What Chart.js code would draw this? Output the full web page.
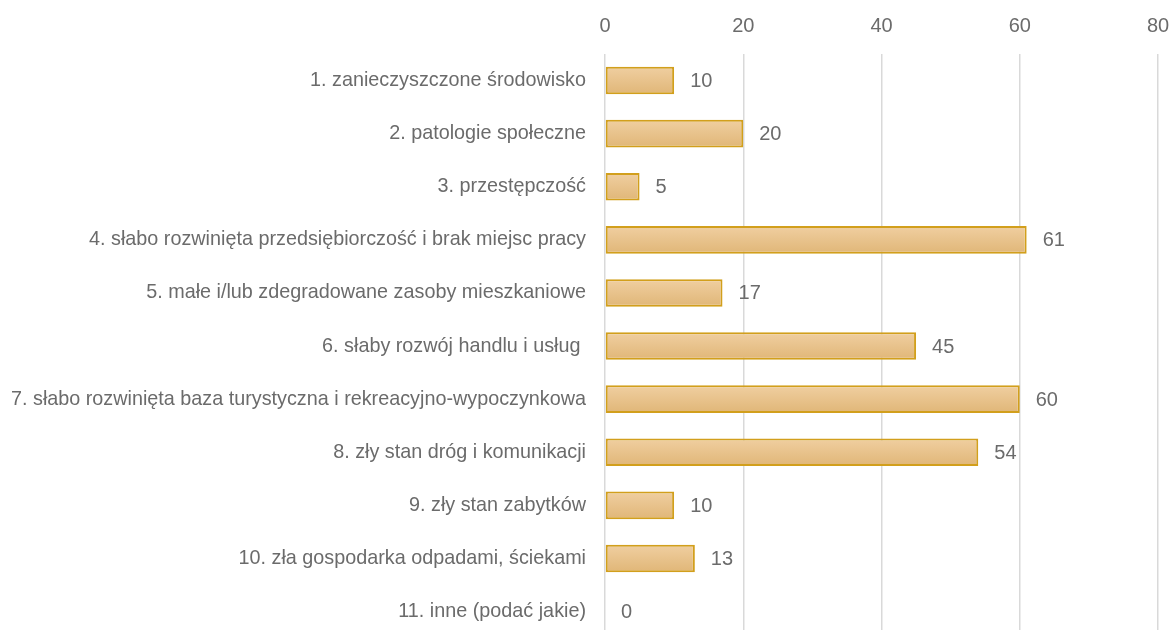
<!DOCTYPE html>
<html>
<head>
<meta charset="utf-8">
<script src="https://cdn.jsdelivr.net/npm/chart.js@4.4.1/dist/chart.umd.min.js"></script>
<style>
  html, body { margin: 0; padding: 0; background: #fff; overflow: hidden; }
  canvas { position: absolute; left: 0; top: 0; }
</style>
</head>
<body>
<canvas id="chart" width="1171" height="661"></canvas>
<script>
// answers: problems in the area
const categories = [
  '1. zanieczyszczone środowisko',
  '2. patologie społeczne',
  '3. przestępczość',
  '4. słabo rozwinięta przedsiębiorczość i brak miejsc pracy',
  '5. małe i/lub zdegradowane zasoby mieszkaniowe',
  '6. słaby rozwój handlu i usług ',
  '7. słabo rozwinięta baza turystyczna i rekreacyjno-wypoczynkowa',
  '8. zły stan dróg i komunikacji',
  '9. zły stan zabytków',
  '10. zła gospodarka odpadami, ściekami',
  '11. inne (podać jakie)',
];
const counts = [10, 20, 5, 61, 17, 45, 60, 54, 10, 13, 0];
const xTicks = [0, 20, 40, 60, 80];

const FONT = '"Liberation Sans Narrow", "Liberation Sans", Arial, sans-serif';
const TEXT = '#6b6b6b';

function barFill(ctx) {
  const chart = ctx.chart;
  const y = chart.scales && chart.scales.y;
  if (!y || ctx.dataIndex === undefined) return '#e8c28b';
  const c = y.getPixelForValue(ctx.dataIndex);
  if (!isFinite(c)) return '#e8c28b';
  const g = chart.ctx.createLinearGradient(0, c - 14, 0, c + 14);
  g.addColorStop(0, '#f0cfa1');
  g.addColorStop(1, '#e0b677');
  return g;
}

const valueLabels = {
  id: 'valueLabels',
  afterDatasetsDraw(chart) {
    const ctx = chart.ctx;
    const meta = chart.getDatasetMeta(0);
    ctx.save();
    ctx.font = '20px ' + FONT;
    ctx.fillStyle = TEXT;
    ctx.textAlign = 'left';
    ctx.textBaseline = 'middle';
    meta.data.forEach((bar, i) => {
      ctx.fillText(String(counts[i]), bar.x + 16, bar.y + 1);
    });
    ctx.restore();
  },
};

new Chart(document.getElementById('chart'), {
  type: 'bar',
  data: {
    labels: categories,
    datasets: [{
      data: counts,
      backgroundColor: barFill,
      borderColor: '#d29f1c',
      borderWidth: 2,
      borderSkipped: false,
      barPercentage: 0.52,
      categoryPercentage: 1,
    }],
  },
  options: {
    indexAxis: 'y',
    responsive: false,
    animation: false,
    layout: { padding: { top: -2, right: 0, left: 0, bottom: 0 } },
    plugins: { legend: { display: false }, tooltip: { enabled: false } },
    scales: {
      x: {
        position: 'top',
        min: 0,
        max: 80,
        afterBuildTicks: (s) => { s.ticks = xTicks.map((v) => ({ value: v })); },
        afterFit: (s) => { s.paddingRight = 13; s.paddingLeft = 0; },
        ticks: { color: TEXT, font: { family: FONT, size: 20 }, padding: 16 },
        grid: { color: '#d9d9d9', lineWidth: 1.5, drawTicks: false },
        border: { display: false },
      },
      y: {
        afterFit: (s) => { s.width = 605; },
        ticks: { color: TEXT, font: { family: FONT, size: 19.8 }, padding: 11 },
        grid: { display: false },
        border: { display: false },
      },
    },
  },
  plugins: [valueLabels],
});
</script>
</body>
</html>
